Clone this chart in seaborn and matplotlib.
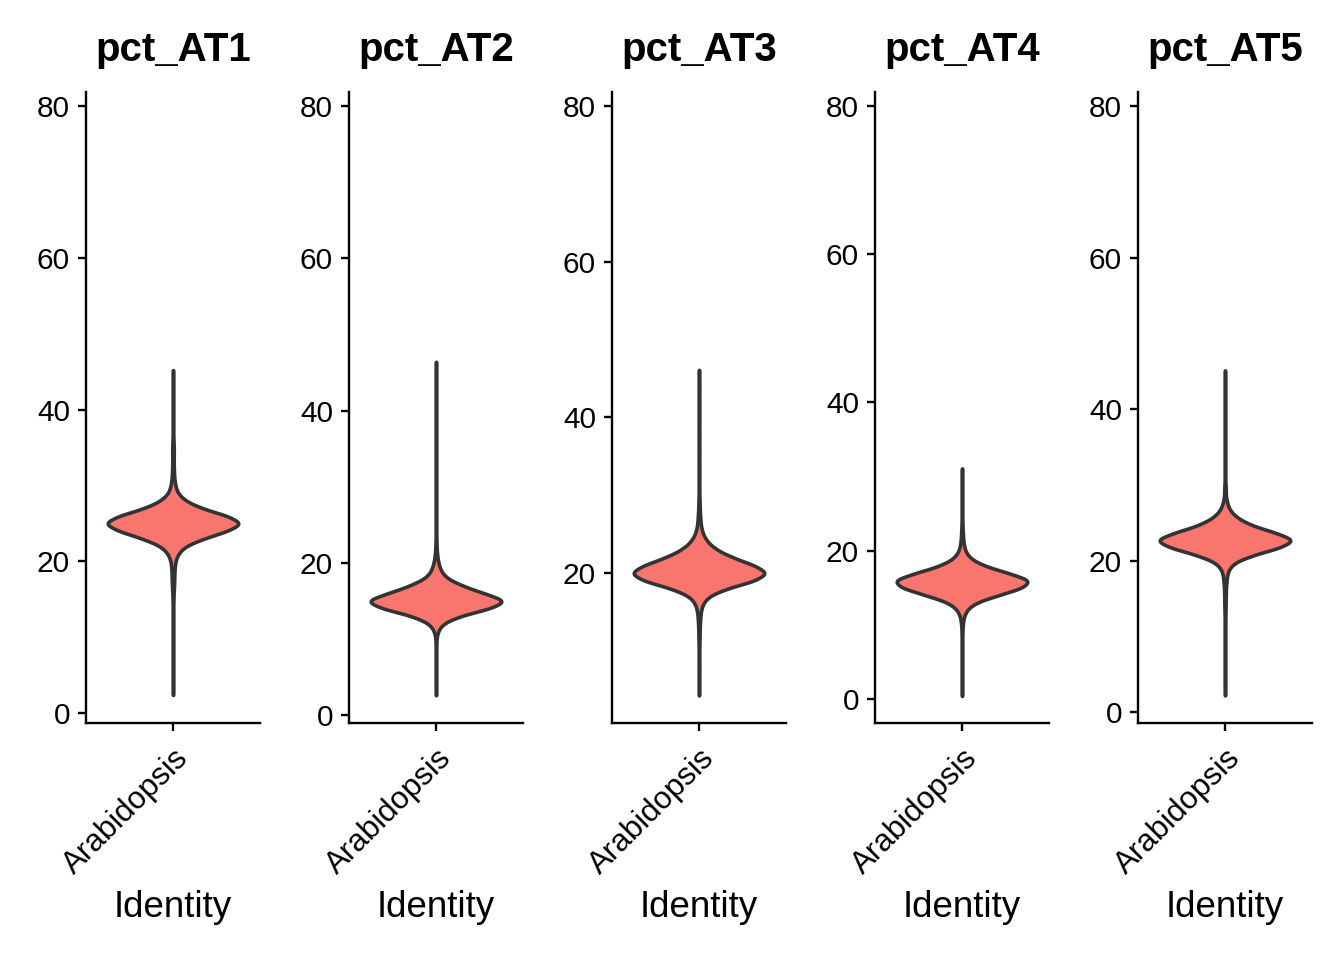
import numpy as np
import pandas as pd
import matplotlib
matplotlib.use("Agg")
import matplotlib.pyplot as plt
import seaborn as sns

# ---------------- data ----------------
features = ["pct_AT1", "pct_AT2", "pct_AT3", "pct_AT4", "pct_AT5"]
identity = "Arabidopsis"

# value / frequency tables that reproduce each violin outline
at1_values = [2.4, 5, 8, 10, 12, 13, 14, 15, 16, 17, 18, 19, 20, 21, 22, 23, 24, 25,
              26, 27, 28, 29, 30, 31, 32, 33, 34, 35, 36, 37, 38, 40, 42, 45.2]
at1_counts = [1, 1, 1, 1, 1, 2, 2, 3, 5, 8, 9, 11, 16, 35, 85, 215, 390, 500,
              390, 200, 85, 32, 16, 9, 6, 5, 5, 6, 3, 2, 2, 1, 1, 1]

at2_values = [2.6, 5, 7, 8, 9, 10, 11, 12, 13, 14, 15, 16, 17, 18, 19, 20, 21, 22,
              23, 25, 28, 32, 36, 40, 43, 46.4]
at2_counts = [1, 1, 1, 2, 2, 3, 12, 45, 160, 380, 500, 330, 180, 70, 32, 16, 8, 4,
              3, 2, 1, 1, 1, 1, 1, 1]

at3_values = [4.3, 6, 8, 10, 11, 12, 13, 14, 15, 16, 17, 18, 19, 20, 21, 22, 23, 24,
              25, 26, 27, 28, 29, 30, 32, 35, 38, 41, 44, 46.1]
at3_counts = [1, 1, 1, 2, 3, 4, 5, 8, 12, 25, 65, 190, 400, 500, 400, 240, 125, 60,
              28, 14, 9, 6, 4, 3, 2, 2, 1, 1, 1, 1]

at4_values = [0.4, 3, 5, 7, 8, 9, 10, 11, 12, 13, 14, 15, 16, 17, 18, 19, 20, 21,
              22, 23, 24, 26, 28, 31.1]
at4_counts = [1, 1, 1, 1, 2, 3, 5, 12, 32, 95, 260, 440, 500, 330, 150, 55, 22, 11,
              7, 4, 3, 2, 1, 1]

at5_values = [2.2, 5, 8, 10, 12, 13, 14, 15, 16, 17, 17.7, 18.7, 19.7, 20.7, 21.7,
              22.7, 23.7, 24.7, 25.7, 26.7, 27.7, 29, 30, 32, 34, 37, 40, 43, 45.1]
at5_counts = [1, 1, 1, 2, 2, 3, 4, 5, 6, 7, 10, 22, 60, 190, 390,
              500, 350, 175, 80, 30, 14, 6, 4, 3, 2, 1, 1, 1, 1]

y_ticks = [0, 20, 40, 60, 80]
y_limits = [(-1.3, 81.85), (-1.05, 81.85), (0.75, 81.8), (-3.25, 81.9), (-1.45, 81.85)]

all_values = [at1_values, at2_values, at3_values, at4_values, at5_values]
all_counts = [at1_counts, at2_counts, at3_counts, at4_counts, at5_counts]

# ---------------- style ----------------
sns.set_theme(style="ticks")
plt.rcParams["font.family"] = ["Liberation Sans", "DejaVu Sans"]

fill_color = "#F8766D"
edge_color = "#333333"

fig = plt.figure(figsize=(13.44, 9.6), dpi=100)
W, H = 1344, 960

for i, name in enumerate(features):
    data = np.repeat(np.asarray(all_values[i], float), all_counts[i])
    df = pd.DataFrame({"Identity": identity, name: data})
    ax = fig.add_axes([(86 + 263 * i) / W, (H - 723) / H, 174 / W, 631 / H])
    bw = 0.6 / np.std(data, ddof=1)
    sns.violinplot(data=df, x="Identity", y=name, ax=ax, color=fill_color,
                   saturation=1, linecolor=edge_color, linewidth=2.6,
                   inner=None, cut=0, width=0.9, density_norm="width",
                   bw_method=bw, gridsize=600)
    ax.set_xlim(-0.6, 0.6)
    ax.set_yticks(y_ticks)
    ax.set_ylim(*y_limits[i])
    sns.despine(ax=ax)
    for s in ("left", "bottom"):
        ax.spines[s].set_linewidth(1.7)
        ax.spines[s].set_color("black")
    ax.tick_params(axis="both", length=5.5, width=1.7, color="black",
                   labelsize=21.5, labelcolor="black")
    ax.tick_params(axis="y", pad=6)
    ax.tick_params(axis="x", pad=9)
    for lab in ax.get_xticklabels():
        lab.set_rotation(45)
        lab.set_ha("right")
        lab.set_va("top")
        lab.set_rotation_mode("anchor")
        lab.set_fontsize(22.5)
    ax.set_ylabel("")
    ax.set_xlabel("Identity", fontsize=26.5, color="black")
    ax.xaxis.label.set_va("baseline")
    ax.xaxis.set_label_coords(0.5, (723 - 917) / 631)
    ax.set_title(name, fontsize=29, fontweight="bold", color="black", pad=22)

fig.savefig("out.png", dpi=100)
